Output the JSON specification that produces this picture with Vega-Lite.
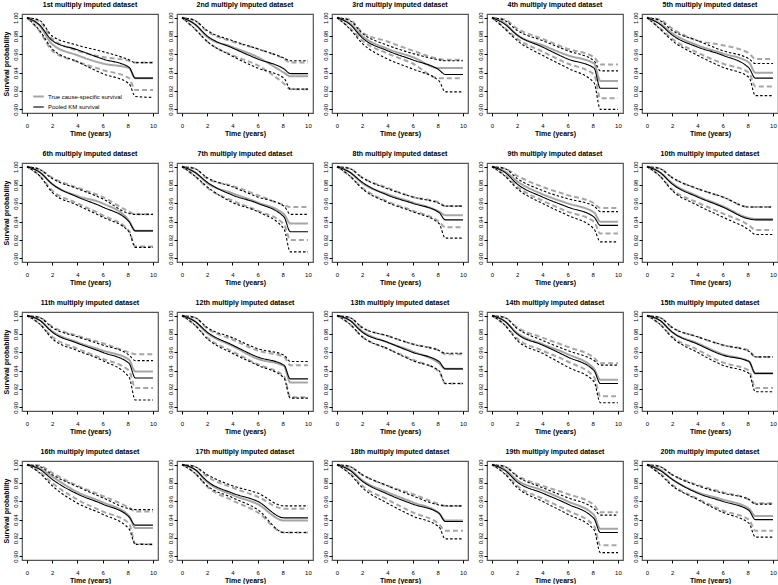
{
  "$schema": "https://vega.github.io/schema/vega-lite/v6.json",
  "background": "white",
  "padding": {"left": 1, "top": 0, "right": 0, "bottom": 0},
  "data": {"values": [
    {"p":1,"t":0,"s":1,"lo":1,"hi":1,"ts":1,"tlo":1,"thi":1},
    {"p":1,"t":1,"s":0.992,"lo":0.986,"hi":0.997,"ts":0.991,"tlo":0.985,"thi":0.996},
    {"p":1,"t":2,"s":0.975,"lo":0.966,"hi":0.980,"ts":0.971,"tlo":0.964,"thi":0.977},
    {"p":1,"t":4,"s":0.965,"lo":0.952,"hi":0.970,"ts":0.959,"tlo":0.952,"thi":0.964},
    {"p":1,"t":6,"s":0.955,"lo":0.939,"hi":0.963,"ts":0.950,"tlo":0.943,"thi":0.957},
    {"p":1,"t":8.1,"s":0.946,"lo":0.928,"hi":0.954,"ts":0.945,"tlo":0.934,"thi":0.953},
    {"p":1,"t":8.6,"s":0.934,"lo":0.914,"hi":0.951,"ts":0.934,"tlo":0.921,"thi":0.951},
    {"p":1,"t":10,"s":0.934,"lo":0.913,"hi":0.951,"ts":0.934,"tlo":0.921,"thi":0.951},
    {"p":2,"t":0,"s":1,"lo":1,"hi":1,"ts":1,"tlo":1,"thi":1},
    {"p":2,"t":1,"s":0.993,"lo":0.988,"hi":0.997,"ts":0.993,"tlo":0.988,"thi":0.997},
    {"p":2,"t":2,"s":0.980,"lo":0.974,"hi":0.986,"ts":0.979,"tlo":0.974,"thi":0.985},
    {"p":2,"t":4,"s":0.967,"lo":0.958,"hi":0.975,"ts":0.968,"tlo":0.959,"thi":0.974},
    {"p":2,"t":6,"s":0.955,"lo":0.945,"hi":0.966,"ts":0.957,"tlo":0.948,"thi":0.966},
    {"p":2,"t":8.1,"s":0.944,"lo":0.934,"hi":0.956,"ts":0.940,"tlo":0.928,"thi":0.955},
    {"p":2,"t":8.6,"s":0.939,"lo":0.922,"hi":0.953,"ts":0.936,"tlo":0.922,"thi":0.951},
    {"p":2,"t":10,"s":0.939,"lo":0.922,"hi":0.953,"ts":0.936,"tlo":0.922,"thi":0.951},
    {"p":3,"t":0,"s":1,"lo":1,"hi":1,"ts":1,"tlo":1,"thi":1},
    {"p":3,"t":1,"s":0.993,"lo":0.988,"hi":0.997,"ts":0.994,"tlo":0.989,"thi":0.998},
    {"p":3,"t":2,"s":0.978,"lo":0.972,"hi":0.983,"ts":0.980,"tlo":0.975,"thi":0.984},
    {"p":3,"t":4,"s":0.964,"lo":0.955,"hi":0.970,"ts":0.966,"tlo":0.961,"thi":0.974},
    {"p":3,"t":6,"s":0.954,"lo":0.944,"hi":0.961,"ts":0.957,"tlo":0.950,"thi":0.964},
    {"p":3,"t":8.1,"s":0.943,"lo":0.931,"hi":0.954,"ts":0.945,"tlo":0.934,"thi":0.955},
    {"p":3,"t":8.6,"s":0.938,"lo":0.919,"hi":0.953,"ts":0.945,"tlo":0.934,"thi":0.954},
    {"p":3,"t":10,"s":0.938,"lo":0.919,"hi":0.953,"ts":0.945,"tlo":0.934,"thi":0.954},
    {"p":4,"t":0,"s":1,"lo":1,"hi":1,"ts":1,"tlo":1,"thi":1},
    {"p":4,"t":1,"s":0.993,"lo":0.988,"hi":0.997,"ts":0.994,"tlo":0.989,"thi":0.998},
    {"p":4,"t":2,"s":0.981,"lo":0.975,"hi":0.986,"ts":0.981,"tlo":0.977,"thi":0.988},
    {"p":4,"t":4,"s":0.968,"lo":0.959,"hi":0.975,"ts":0.970,"tlo":0.963,"thi":0.977},
    {"p":4,"t":6,"s":0.955,"lo":0.945,"hi":0.964,"ts":0.959,"tlo":0.950,"thi":0.966},
    {"p":4,"t":8.1,"s":0.945,"lo":0.929,"hi":0.953,"ts":0.950,"tlo":0.938,"thi":0.957},
    {"p":4,"t":8.6,"s":0.923,"lo":0.900,"hi":0.942,"ts":0.931,"tlo":0.912,"thi":0.949},
    {"p":4,"t":10,"s":0.923,"lo":0.900,"hi":0.942,"ts":0.931,"tlo":0.912,"thi":0.949},
    {"p":5,"t":0,"s":1,"lo":1,"hi":1,"ts":1,"tlo":1,"thi":1},
    {"p":5,"t":1,"s":0.993,"lo":0.988,"hi":0.997,"ts":0.994,"tlo":0.989,"thi":0.998},
    {"p":5,"t":2,"s":0.981,"lo":0.975,"hi":0.986,"ts":0.983,"tlo":0.977,"thi":0.988},
    {"p":5,"t":4,"s":0.968,"lo":0.959,"hi":0.975,"ts":0.970,"tlo":0.962,"thi":0.975},
    {"p":5,"t":6,"s":0.959,"lo":0.946,"hi":0.964,"ts":0.961,"tlo":0.950,"thi":0.970},
    {"p":5,"t":8.1,"s":0.945,"lo":0.935,"hi":0.955,"ts":0.951,"tlo":0.940,"thi":0.961},
    {"p":5,"t":8.6,"s":0.934,"lo":0.915,"hi":0.950,"ts":0.940,"tlo":0.925,"thi":0.955},
    {"p":5,"t":10,"s":0.934,"lo":0.915,"hi":0.950,"ts":0.940,"tlo":0.925,"thi":0.955},
    {"p":6,"t":0,"s":1,"lo":1,"hi":1,"ts":1,"tlo":1,"thi":1},
    {"p":6,"t":1,"s":0.994,"lo":0.990,"hi":0.997,"ts":0.994,"tlo":0.990,"thi":0.997},
    {"p":6,"t":2,"s":0.981,"lo":0.972,"hi":0.987,"ts":0.981,"tlo":0.974,"thi":0.988},
    {"p":6,"t":4,"s":0.967,"lo":0.958,"hi":0.976,"ts":0.968,"tlo":0.960,"thi":0.977},
    {"p":6,"t":6,"s":0.956,"lo":0.945,"hi":0.965,"ts":0.960,"tlo":0.947,"thi":0.967},
    {"p":6,"t":8.1,"s":0.940,"lo":0.929,"hi":0.949,"ts":0.941,"tlo":0.930,"thi":0.951},
    {"p":6,"t":8.6,"s":0.930,"lo":0.912,"hi":0.948,"ts":0.930,"tlo":0.913,"thi":0.948},
    {"p":6,"t":10,"s":0.930,"lo":0.912,"hi":0.948,"ts":0.930,"tlo":0.913,"thi":0.948},
    {"p":7,"t":0,"s":1,"lo":1,"hi":1,"ts":1,"tlo":1,"thi":1},
    {"p":7,"t":1,"s":0.994,"lo":0.990,"hi":0.998,"ts":0.994,"tlo":0.990,"thi":0.998},
    {"p":7,"t":2,"s":0.983,"lo":0.978,"hi":0.988,"ts":0.982,"tlo":0.977,"thi":0.987},
    {"p":7,"t":4,"s":0.969,"lo":0.961,"hi":0.978,"ts":0.971,"tlo":0.963,"thi":0.979},
    {"p":7,"t":6,"s":0.960,"lo":0.951,"hi":0.967,"ts":0.961,"tlo":0.952,"thi":0.969},
    {"p":7,"t":8.1,"s":0.945,"lo":0.932,"hi":0.957,"ts":0.948,"tlo":0.937,"thi":0.958},
    {"p":7,"t":8.6,"s":0.929,"lo":0.907,"hi":0.948,"ts":0.938,"tlo":0.920,"thi":0.956},
    {"p":7,"t":10,"s":0.929,"lo":0.907,"hi":0.948,"ts":0.938,"tlo":0.920,"thi":0.956},
    {"p":8,"t":0,"s":1,"lo":1,"hi":1,"ts":1,"tlo":1,"thi":1},
    {"p":8,"t":1,"s":0.994,"lo":0.990,"hi":0.998,"ts":0.994,"tlo":0.990,"thi":0.998},
    {"p":8,"t":2,"s":0.983,"lo":0.976,"hi":0.988,"ts":0.982,"tlo":0.977,"thi":0.988},
    {"p":8,"t":4,"s":0.969,"lo":0.961,"hi":0.976,"ts":0.970,"tlo":0.962,"thi":0.977},
    {"p":8,"t":6,"s":0.960,"lo":0.951,"hi":0.967,"ts":0.961,"tlo":0.952,"thi":0.967},
    {"p":8,"t":8.1,"s":0.950,"lo":0.938,"hi":0.960,"ts":0.951,"tlo":0.940,"thi":0.961},
    {"p":8,"t":8.6,"s":0.942,"lo":0.922,"hi":0.957,"ts":0.947,"tlo":0.934,"thi":0.957},
    {"p":8,"t":10,"s":0.942,"lo":0.922,"hi":0.957,"ts":0.947,"tlo":0.934,"thi":0.957},
    {"p":9,"t":0,"s":1,"lo":1,"hi":1,"ts":1,"tlo":1,"thi":1},
    {"p":9,"t":1,"s":0.994,"lo":0.990,"hi":0.998,"ts":0.995,"tlo":0.991,"thi":0.998},
    {"p":9,"t":2,"s":0.981,"lo":0.976,"hi":0.987,"ts":0.984,"tlo":0.978,"thi":0.990},
    {"p":9,"t":4,"s":0.967,"lo":0.960,"hi":0.974,"ts":0.970,"tlo":0.963,"thi":0.978},
    {"p":9,"t":6,"s":0.956,"lo":0.947,"hi":0.965,"ts":0.960,"tlo":0.951,"thi":0.969},
    {"p":9,"t":8.1,"s":0.945,"lo":0.932,"hi":0.957,"ts":0.950,"tlo":0.940,"thi":0.960},
    {"p":9,"t":8.6,"s":0.936,"lo":0.918,"hi":0.951,"ts":0.940,"tlo":0.927,"thi":0.955},
    {"p":9,"t":10,"s":0.936,"lo":0.918,"hi":0.951,"ts":0.940,"tlo":0.927,"thi":0.955},
    {"p":10,"t":0,"s":1,"lo":1,"hi":1,"ts":1,"tlo":1,"thi":1},
    {"p":10,"t":1,"s":0.994,"lo":0.990,"hi":0.998,"ts":0.994,"tlo":0.990,"thi":0.998},
    {"p":10,"t":2,"s":0.981,"lo":0.974,"hi":0.988,"ts":0.982,"tlo":0.975,"thi":0.988},
    {"p":10,"t":4,"s":0.967,"lo":0.958,"hi":0.976,"ts":0.968,"tlo":0.961,"thi":0.976},
    {"p":10,"t":6,"s":0.956,"lo":0.945,"hi":0.967,"ts":0.957,"tlo":0.949,"thi":0.967},
    {"p":10,"t":8.1,"s":0.943,"lo":0.931,"hi":0.956,"ts":0.944,"tlo":0.936,"thi":0.956},
    {"p":10,"t":8.6,"s":0.942,"lo":0.926,"hi":0.956,"ts":0.943,"tlo":0.931,"thi":0.956},
    {"p":10,"t":10,"s":0.942,"lo":0.926,"hi":0.956,"ts":0.943,"tlo":0.931,"thi":0.956},
    {"p":11,"t":0,"s":1,"lo":1,"hi":1,"ts":1,"tlo":1,"thi":1},
    {"p":11,"t":1,"s":0.995,"lo":0.991,"hi":0.998,"ts":0.995,"tlo":0.991,"thi":0.998},
    {"p":11,"t":2,"s":0.982,"lo":0.975,"hi":0.987,"ts":0.983,"tlo":0.977,"thi":0.988},
    {"p":11,"t":4,"s":0.970,"lo":0.962,"hi":0.977,"ts":0.971,"tlo":0.964,"thi":0.978},
    {"p":11,"t":6,"s":0.960,"lo":0.951,"hi":0.968,"ts":0.962,"tlo":0.953,"thi":0.970},
    {"p":11,"t":8.1,"s":0.948,"lo":0.933,"hi":0.957,"ts":0.952,"tlo":0.940,"thi":0.960},
    {"p":11,"t":8.6,"s":0.932,"lo":0.908,"hi":0.951,"ts":0.939,"tlo":0.921,"thi":0.958},
    {"p":11,"t":10,"s":0.932,"lo":0.908,"hi":0.951,"ts":0.939,"tlo":0.921,"thi":0.958},
    {"p":12,"t":0,"s":1,"lo":1,"hi":1,"ts":1,"tlo":1,"thi":1},
    {"p":12,"t":1,"s":0.994,"lo":0.990,"hi":0.998,"ts":0.994,"tlo":0.990,"thi":0.998},
    {"p":12,"t":2,"s":0.982,"lo":0.975,"hi":0.987,"ts":0.981,"tlo":0.976,"thi":0.986},
    {"p":12,"t":4,"s":0.968,"lo":0.959,"hi":0.976,"ts":0.967,"tlo":0.961,"thi":0.974},
    {"p":12,"t":6,"s":0.955,"lo":0.946,"hi":0.964,"ts":0.953,"tlo":0.947,"thi":0.962},
    {"p":12,"t":8.1,"s":0.946,"lo":0.932,"hi":0.957,"ts":0.945,"tlo":0.934,"thi":0.955},
    {"p":12,"t":8.6,"s":0.931,"lo":0.910,"hi":0.950,"ts":0.927,"tlo":0.911,"thi":0.946},
    {"p":12,"t":10,"s":0.931,"lo":0.910,"hi":0.950,"ts":0.927,"tlo":0.911,"thi":0.946},
    {"p":13,"t":0,"s":1,"lo":1,"hi":1,"ts":1,"tlo":1,"thi":1},
    {"p":13,"t":1,"s":0.995,"lo":0.991,"hi":0.998,"ts":0.995,"tlo":0.991,"thi":0.998},
    {"p":13,"t":2,"s":0.982,"lo":0.977,"hi":0.987,"ts":0.983,"tlo":0.977,"thi":0.987},
    {"p":13,"t":4,"s":0.971,"lo":0.964,"hi":0.978,"ts":0.971,"tlo":0.964,"thi":0.978},
    {"p":13,"t":6,"s":0.960,"lo":0.951,"hi":0.969,"ts":0.961,"tlo":0.952,"thi":0.969},
    {"p":13,"t":8.1,"s":0.950,"lo":0.940,"hi":0.962,"ts":0.948,"tlo":0.939,"thi":0.962},
    {"p":13,"t":8.6,"s":0.942,"lo":0.926,"hi":0.959,"ts":0.942,"tlo":0.926,"thi":0.958},
    {"p":13,"t":10,"s":0.942,"lo":0.926,"hi":0.959,"ts":0.942,"tlo":0.926,"thi":0.958},
    {"p":14,"t":0,"s":1,"lo":1,"hi":1,"ts":1,"tlo":1,"thi":1},
    {"p":14,"t":1,"s":0.994,"lo":0.990,"hi":0.998,"ts":0.994,"tlo":0.990,"thi":0.998},
    {"p":14,"t":2,"s":0.980,"lo":0.973,"hi":0.986,"ts":0.981,"tlo":0.975,"thi":0.987},
    {"p":14,"t":4,"s":0.968,"lo":0.959,"hi":0.973,"ts":0.969,"tlo":0.962,"thi":0.976},
    {"p":14,"t":6,"s":0.955,"lo":0.944,"hi":0.962,"ts":0.958,"tlo":0.950,"thi":0.966},
    {"p":14,"t":8.1,"s":0.940,"lo":0.928,"hi":0.951,"ts":0.942,"tlo":0.933,"thi":0.954},
    {"p":14,"t":8.6,"s":0.926,"lo":0.905,"hi":0.946,"ts":0.930,"tlo":0.912,"thi":0.948},
    {"p":14,"t":10,"s":0.926,"lo":0.905,"hi":0.946,"ts":0.930,"tlo":0.912,"thi":0.948},
    {"p":15,"t":0,"s":1,"lo":1,"hi":1,"ts":1,"tlo":1,"thi":1},
    {"p":15,"t":1,"s":0.995,"lo":0.991,"hi":0.998,"ts":0.995,"tlo":0.991,"thi":0.998},
    {"p":15,"t":2,"s":0.982,"lo":0.976,"hi":0.987,"ts":0.982,"tlo":0.977,"thi":0.987},
    {"p":15,"t":4,"s":0.969,"lo":0.960,"hi":0.977,"ts":0.970,"tlo":0.963,"thi":0.977},
    {"p":15,"t":6,"s":0.957,"lo":0.946,"hi":0.968,"ts":0.958,"tlo":0.949,"thi":0.968},
    {"p":15,"t":8.1,"s":0.950,"lo":0.937,"hi":0.961,"ts":0.950,"tlo":0.940,"thi":0.962},
    {"p":15,"t":8.6,"s":0.937,"lo":0.917,"hi":0.955,"ts":0.937,"tlo":0.921,"thi":0.955},
    {"p":15,"t":10,"s":0.937,"lo":0.917,"hi":0.955,"ts":0.937,"tlo":0.921,"thi":0.955},
    {"p":16,"t":0,"s":1,"lo":1,"hi":1,"ts":1,"tlo":1,"thi":1},
    {"p":16,"t":1,"s":0.995,"lo":0.991,"hi":0.998,"ts":0.996,"tlo":0.992,"thi":0.999},
    {"p":16,"t":2,"s":0.984,"lo":0.977,"hi":0.989,"ts":0.987,"tlo":0.980,"thi":0.991},
    {"p":16,"t":4,"s":0.968,"lo":0.958,"hi":0.976,"ts":0.970,"tlo":0.962,"thi":0.977},
    {"p":16,"t":6,"s":0.957,"lo":0.946,"hi":0.964,"ts":0.959,"tlo":0.949,"thi":0.966},
    {"p":16,"t":8.1,"s":0.943,"lo":0.930,"hi":0.952,"ts":0.944,"tlo":0.936,"thi":0.953},
    {"p":16,"t":8.6,"s":0.934,"lo":0.913,"hi":0.951,"ts":0.931,"tlo":0.914,"thi":0.949},
    {"p":16,"t":10,"s":0.934,"lo":0.913,"hi":0.951,"ts":0.931,"tlo":0.913,"thi":0.949},
    {"p":17,"t":0,"s":1,"lo":1,"hi":1,"ts":1,"tlo":1,"thi":1},
    {"p":17,"t":1,"s":0.995,"lo":0.991,"hi":0.998,"ts":0.995,"tlo":0.991,"thi":0.998},
    {"p":17,"t":2,"s":0.982,"lo":0.977,"hi":0.989,"ts":0.981,"tlo":0.976,"thi":0.987},
    {"p":17,"t":4,"s":0.969,"lo":0.964,"hi":0.977,"ts":0.967,"tlo":0.961,"thi":0.975},
    {"p":17,"t":6,"s":0.960,"lo":0.951,"hi":0.969,"ts":0.957,"tlo":0.948,"thi":0.965},
    {"p":17,"t":8.1,"s":0.942,"lo":0.926,"hi":0.955,"ts":0.939,"tlo":0.926,"thi":0.952},
    {"p":17,"t":8.6,"s":0.942,"lo":0.926,"hi":0.955,"ts":0.939,"tlo":0.926,"thi":0.952},
    {"p":17,"t":10,"s":0.942,"lo":0.926,"hi":0.955,"ts":0.939,"tlo":0.926,"thi":0.952},
    {"p":18,"t":0,"s":1,"lo":1,"hi":1,"ts":1,"tlo":1,"thi":1},
    {"p":18,"t":1,"s":0.994,"lo":0.990,"hi":0.998,"ts":0.995,"tlo":0.991,"thi":0.998},
    {"p":18,"t":2,"s":0.982,"lo":0.975,"hi":0.989,"ts":0.983,"tlo":0.977,"thi":0.989},
    {"p":18,"t":4,"s":0.968,"lo":0.958,"hi":0.977,"ts":0.970,"tlo":0.962,"thi":0.977},
    {"p":18,"t":6,"s":0.957,"lo":0.944,"hi":0.966,"ts":0.959,"tlo":0.948,"thi":0.968},
    {"p":18,"t":8.1,"s":0.947,"lo":0.932,"hi":0.956,"ts":0.947,"tlo":0.935,"thi":0.957},
    {"p":18,"t":8.6,"s":0.938,"lo":0.919,"hi":0.955,"ts":0.939,"tlo":0.928,"thi":0.955},
    {"p":18,"t":10,"s":0.938,"lo":0.919,"hi":0.955,"ts":0.939,"tlo":0.928,"thi":0.955},
    {"p":19,"t":0,"s":1,"lo":1,"hi":1,"ts":1,"tlo":1,"thi":1},
    {"p":19,"t":1,"s":0.994,"lo":0.990,"hi":0.998,"ts":0.995,"tlo":0.991,"thi":0.998},
    {"p":19,"t":2,"s":0.981,"lo":0.975,"hi":0.987,"ts":0.983,"tlo":0.977,"thi":0.988},
    {"p":19,"t":4,"s":0.969,"lo":0.960,"hi":0.975,"ts":0.972,"tlo":0.963,"thi":0.977},
    {"p":19,"t":6,"s":0.957,"lo":0.946,"hi":0.964,"ts":0.960,"tlo":0.950,"thi":0.968},
    {"p":19,"t":8.1,"s":0.941,"lo":0.929,"hi":0.952,"ts":0.945,"tlo":0.933,"thi":0.956},
    {"p":19,"t":8.6,"s":0.926,"lo":0.904,"hi":0.945,"ts":0.930,"tlo":0.912,"thi":0.948},
    {"p":19,"t":10,"s":0.926,"lo":0.904,"hi":0.945,"ts":0.930,"tlo":0.912,"thi":0.948},
    {"p":20,"t":0,"s":1,"lo":1,"hi":1,"ts":1,"tlo":1,"thi":1},
    {"p":20,"t":1,"s":0.994,"lo":0.990,"hi":0.998,"ts":0.995,"tlo":0.991,"thi":0.998},
    {"p":20,"t":2,"s":0.984,"lo":0.977,"hi":0.989,"ts":0.984,"tlo":0.978,"thi":0.989},
    {"p":20,"t":4,"s":0.969,"lo":0.962,"hi":0.977,"ts":0.970,"tlo":0.963,"thi":0.978},
    {"p":20,"t":6,"s":0.960,"lo":0.948,"hi":0.969,"ts":0.962,"tlo":0.950,"thi":0.970},
    {"p":20,"t":8.1,"s":0.950,"lo":0.936,"hi":0.962,"ts":0.952,"tlo":0.940,"thi":0.962},
    {"p":20,"t":8.6,"s":0.940,"lo":0.921,"hi":0.957,"ts":0.944,"tlo":0.928,"thi":0.958},
    {"p":20,"t":10,"s":0.940,"lo":0.921,"hi":0.957,"ts":0.944,"tlo":0.928,"thi":0.958}
  ]},
  "transform": [
    {"fold": ["s", "lo", "hi", "ts", "tlo", "thi"], "as": ["k", "v"]},
    {"calculate": "indexof(['ts','tlo','thi'], datum.k) >= 0 ? 'True cause-specific survival' : 'Pooled KM survival'", "as": "g"}
  ],
  "hconcat": [
    {
      "transform": [{"filter": "datum.p % 5 == 1"}],
      "facet": {"field": "p", "type": "ordinal", "title": null,
        "header": {"labelExpr": "datum.value + (datum.value == 1 ? 'st' : datum.value == 2 ? 'nd' : datum.value == 3 ? 'rd' : 'th') + ' multiply imputed dataset'"}},
      "columns": 1,
      "resolve": {"axis": {"x": "independent", "y": "independent"}},
      "spec": {
        "width": 136, "height": 99,
        "encoding": {
          "x": {"field": "t", "type": "quantitative", "scale": {"domain": [-0.4, 10.4], "nice": false, "zero": false}, "axis": {"values": [0, 2, 4, 6, 8, 10], "title": "Time (years)"}},
          "y": {"field": "v", "type": "quantitative", "scale": {"domain": [0.896, 1.004], "nice": false, "zero": false}, "axis": {"values": [0.9, 0.92, 0.94, 0.96, 0.98, 1], "format": ".2f", "title": "Survival probability"}},
          "color": {"field": "g", "type": "nominal", "scale": {"domain": ["True cause-specific survival", "Pooled KM survival"], "range": ["#a6a6a6", "#000000"]},
            "legend": {"title": null, "orient": "none", "legendX": 10, "legendY": 76, "symbolType": "stroke", "symbolSize": 110, "labelFontSize": 6, "rowPadding": 0, "labelOffset": 3}},
          "strokeWidth": {"field": "g", "type": "nominal", "scale": {"domain": ["True cause-specific survival", "Pooled KM survival"], "range": [2, 1.1]},
            "legend": {"title": null, "orient": "none", "legendX": 10, "legendY": 76, "symbolType": "stroke", "symbolSize": 110, "labelFontSize": 6, "rowPadding": 0, "labelOffset": 3}},
          "strokeDash": {"field": "k", "type": "nominal", "scale": {"domain": ["s", "lo", "hi", "ts", "tlo", "thi"], "range": [[1, 0], [2.5, 2], [2.5, 2], [1, 0], [5, 3], [5, 3]]}, "legend": null}
        },
        "layer": [
          {"transform": [{"filter": "datum.g == 'True cause-specific survival'"}], "mark": {"type": "line", "interpolate": "monotone"}},
          {"transform": [{"filter": "datum.g == 'Pooled KM survival'"}], "mark": {"type": "line", "interpolate": "monotone"}}
        ]
      }
    },
    {
      "transform": [{"filter": "datum.p % 5 == 2"}],
      "facet": {"field": "p", "type": "ordinal", "title": null,
        "header": {"labelExpr": "datum.value + (datum.value == 1 ? 'st' : datum.value == 2 ? 'nd' : datum.value == 3 ? 'rd' : 'th') + ' multiply imputed dataset'"}},
      "columns": 1,
      "resolve": {"axis": {"x": "independent", "y": "independent"}},
      "spec": {
        "width": 136, "height": 99,
        "encoding": {
          "x": {"field": "t", "type": "quantitative", "scale": {"domain": [-0.4, 10.4], "nice": false, "zero": false}, "axis": {"values": [0, 2, 4, 6, 8, 10], "title": "Time (years)"}},
          "y": {"field": "v", "type": "quantitative", "scale": {"domain": [0.896, 1.004], "nice": false, "zero": false}, "axis": {"values": [0.9, 0.92, 0.94, 0.96, 0.98, 1], "format": ".2f", "title": null}},
          "color": {"field": "g", "type": "nominal", "scale": {"domain": ["True cause-specific survival", "Pooled KM survival"], "range": ["#a6a6a6", "#000000"]}},
          "strokeWidth": {"field": "g", "type": "nominal", "scale": {"domain": ["True cause-specific survival", "Pooled KM survival"], "range": [2, 1.1]}},
          "strokeDash": {"field": "k", "type": "nominal", "scale": {"domain": ["s", "lo", "hi", "ts", "tlo", "thi"], "range": [[1, 0], [2.5, 2], [2.5, 2], [1, 0], [5, 3], [5, 3]]}, "legend": null}
        },
        "layer": [
          {"transform": [{"filter": "datum.g == 'True cause-specific survival'"}], "mark": {"type": "line", "interpolate": "monotone"}},
          {"transform": [{"filter": "datum.g == 'Pooled KM survival'"}], "mark": {"type": "line", "interpolate": "monotone"}}
        ]
      }
    },
    {
      "transform": [{"filter": "datum.p % 5 == 3"}],
      "facet": {"field": "p", "type": "ordinal", "title": null,
        "header": {"labelExpr": "datum.value + (datum.value == 1 ? 'st' : datum.value == 2 ? 'nd' : datum.value == 3 ? 'rd' : 'th') + ' multiply imputed dataset'"}},
      "columns": 1,
      "resolve": {"axis": {"x": "independent", "y": "independent"}},
      "spec": {
        "width": 136, "height": 99,
        "encoding": {
          "x": {"field": "t", "type": "quantitative", "scale": {"domain": [-0.4, 10.4], "nice": false, "zero": false}, "axis": {"values": [0, 2, 4, 6, 8, 10], "title": "Time (years)"}},
          "y": {"field": "v", "type": "quantitative", "scale": {"domain": [0.896, 1.004], "nice": false, "zero": false}, "axis": {"values": [0.9, 0.92, 0.94, 0.96, 0.98, 1], "format": ".2f", "title": null}},
          "color": {"field": "g", "type": "nominal", "scale": {"domain": ["True cause-specific survival", "Pooled KM survival"], "range": ["#a6a6a6", "#000000"]}},
          "strokeWidth": {"field": "g", "type": "nominal", "scale": {"domain": ["True cause-specific survival", "Pooled KM survival"], "range": [2, 1.1]}},
          "strokeDash": {"field": "k", "type": "nominal", "scale": {"domain": ["s", "lo", "hi", "ts", "tlo", "thi"], "range": [[1, 0], [2.5, 2], [2.5, 2], [1, 0], [5, 3], [5, 3]]}, "legend": null}
        },
        "layer": [
          {"transform": [{"filter": "datum.g == 'True cause-specific survival'"}], "mark": {"type": "line", "interpolate": "monotone"}},
          {"transform": [{"filter": "datum.g == 'Pooled KM survival'"}], "mark": {"type": "line", "interpolate": "monotone"}}
        ]
      }
    },
    {
      "transform": [{"filter": "datum.p % 5 == 4"}],
      "facet": {"field": "p", "type": "ordinal", "title": null,
        "header": {"labelExpr": "datum.value + (datum.value == 1 ? 'st' : datum.value == 2 ? 'nd' : datum.value == 3 ? 'rd' : 'th') + ' multiply imputed dataset'"}},
      "columns": 1,
      "resolve": {"axis": {"x": "independent", "y": "independent"}},
      "spec": {
        "width": 136, "height": 99,
        "encoding": {
          "x": {"field": "t", "type": "quantitative", "scale": {"domain": [-0.4, 10.4], "nice": false, "zero": false}, "axis": {"values": [0, 2, 4, 6, 8, 10], "title": "Time (years)"}},
          "y": {"field": "v", "type": "quantitative", "scale": {"domain": [0.896, 1.004], "nice": false, "zero": false}, "axis": {"values": [0.9, 0.92, 0.94, 0.96, 0.98, 1], "format": ".2f", "title": null}},
          "color": {"field": "g", "type": "nominal", "scale": {"domain": ["True cause-specific survival", "Pooled KM survival"], "range": ["#a6a6a6", "#000000"]}},
          "strokeWidth": {"field": "g", "type": "nominal", "scale": {"domain": ["True cause-specific survival", "Pooled KM survival"], "range": [2, 1.1]}},
          "strokeDash": {"field": "k", "type": "nominal", "scale": {"domain": ["s", "lo", "hi", "ts", "tlo", "thi"], "range": [[1, 0], [2.5, 2], [2.5, 2], [1, 0], [5, 3], [5, 3]]}, "legend": null}
        },
        "layer": [
          {"transform": [{"filter": "datum.g == 'True cause-specific survival'"}], "mark": {"type": "line", "interpolate": "monotone"}},
          {"transform": [{"filter": "datum.g == 'Pooled KM survival'"}], "mark": {"type": "line", "interpolate": "monotone"}}
        ]
      }
    },
    {
      "transform": [{"filter": "datum.p % 5 == 0"}],
      "facet": {"field": "p", "type": "ordinal", "title": null,
        "header": {"labelExpr": "datum.value + (datum.value == 1 ? 'st' : datum.value == 2 ? 'nd' : datum.value == 3 ? 'rd' : 'th') + ' multiply imputed dataset'"}},
      "columns": 1,
      "resolve": {"axis": {"x": "independent", "y": "independent"}},
      "spec": {
        "width": 136, "height": 99,
        "encoding": {
          "x": {"field": "t", "type": "quantitative", "scale": {"domain": [-0.4, 10.4], "nice": false, "zero": false}, "axis": {"values": [0, 2, 4, 6, 8, 10], "title": "Time (years)"}},
          "y": {"field": "v", "type": "quantitative", "scale": {"domain": [0.896, 1.004], "nice": false, "zero": false}, "axis": {"values": [0.9, 0.92, 0.94, 0.96, 0.98, 1], "format": ".2f", "title": null}},
          "color": {"field": "g", "type": "nominal", "scale": {"domain": ["True cause-specific survival", "Pooled KM survival"], "range": ["#a6a6a6", "#000000"]}},
          "strokeWidth": {"field": "g", "type": "nominal", "scale": {"domain": ["True cause-specific survival", "Pooled KM survival"], "range": [2, 1.1]}},
          "strokeDash": {"field": "k", "type": "nominal", "scale": {"domain": ["s", "lo", "hi", "ts", "tlo", "thi"], "range": [[1, 0], [2.5, 2], [2.5, 2], [1, 0], [5, 3], [5, 3]]}, "legend": null}
        },
        "layer": [
          {"transform": [{"filter": "datum.g == 'True cause-specific survival'"}], "mark": {"type": "line", "interpolate": "monotone"}},
          {"transform": [{"filter": "datum.g == 'Pooled KM survival'"}], "mark": {"type": "line", "interpolate": "monotone"}}
        ]
      }
    }
  ],
  "spacing": 7,
  "config": {
    "font": "Liberation Sans",
    "view": {"stroke": "#555555", "strokeWidth": 1.2},
    "axis": {"domain": false, "grid": false, "tickSize": 3, "tickColor": "#000000", "labelFontSize": 6, "labelColor": "#000000", "titleFontSize": 7, "titleFontWeight": "bold", "titleColor": "#000000"},
    "axisX": {"labelPadding": 6, "titlePadding": 1},
    "axisY": {"labelAngle": 270, "labelPadding": 1, "titlePadding": 3},
    "header": {"labelFontSize": 7, "labelFontWeight": "bold", "labelPadding": 4, "labelColor": "#000000"},
    "facet": {"spacing": 12},
    "legend": {"labelFont": "Liberation Sans"}
  }
}
